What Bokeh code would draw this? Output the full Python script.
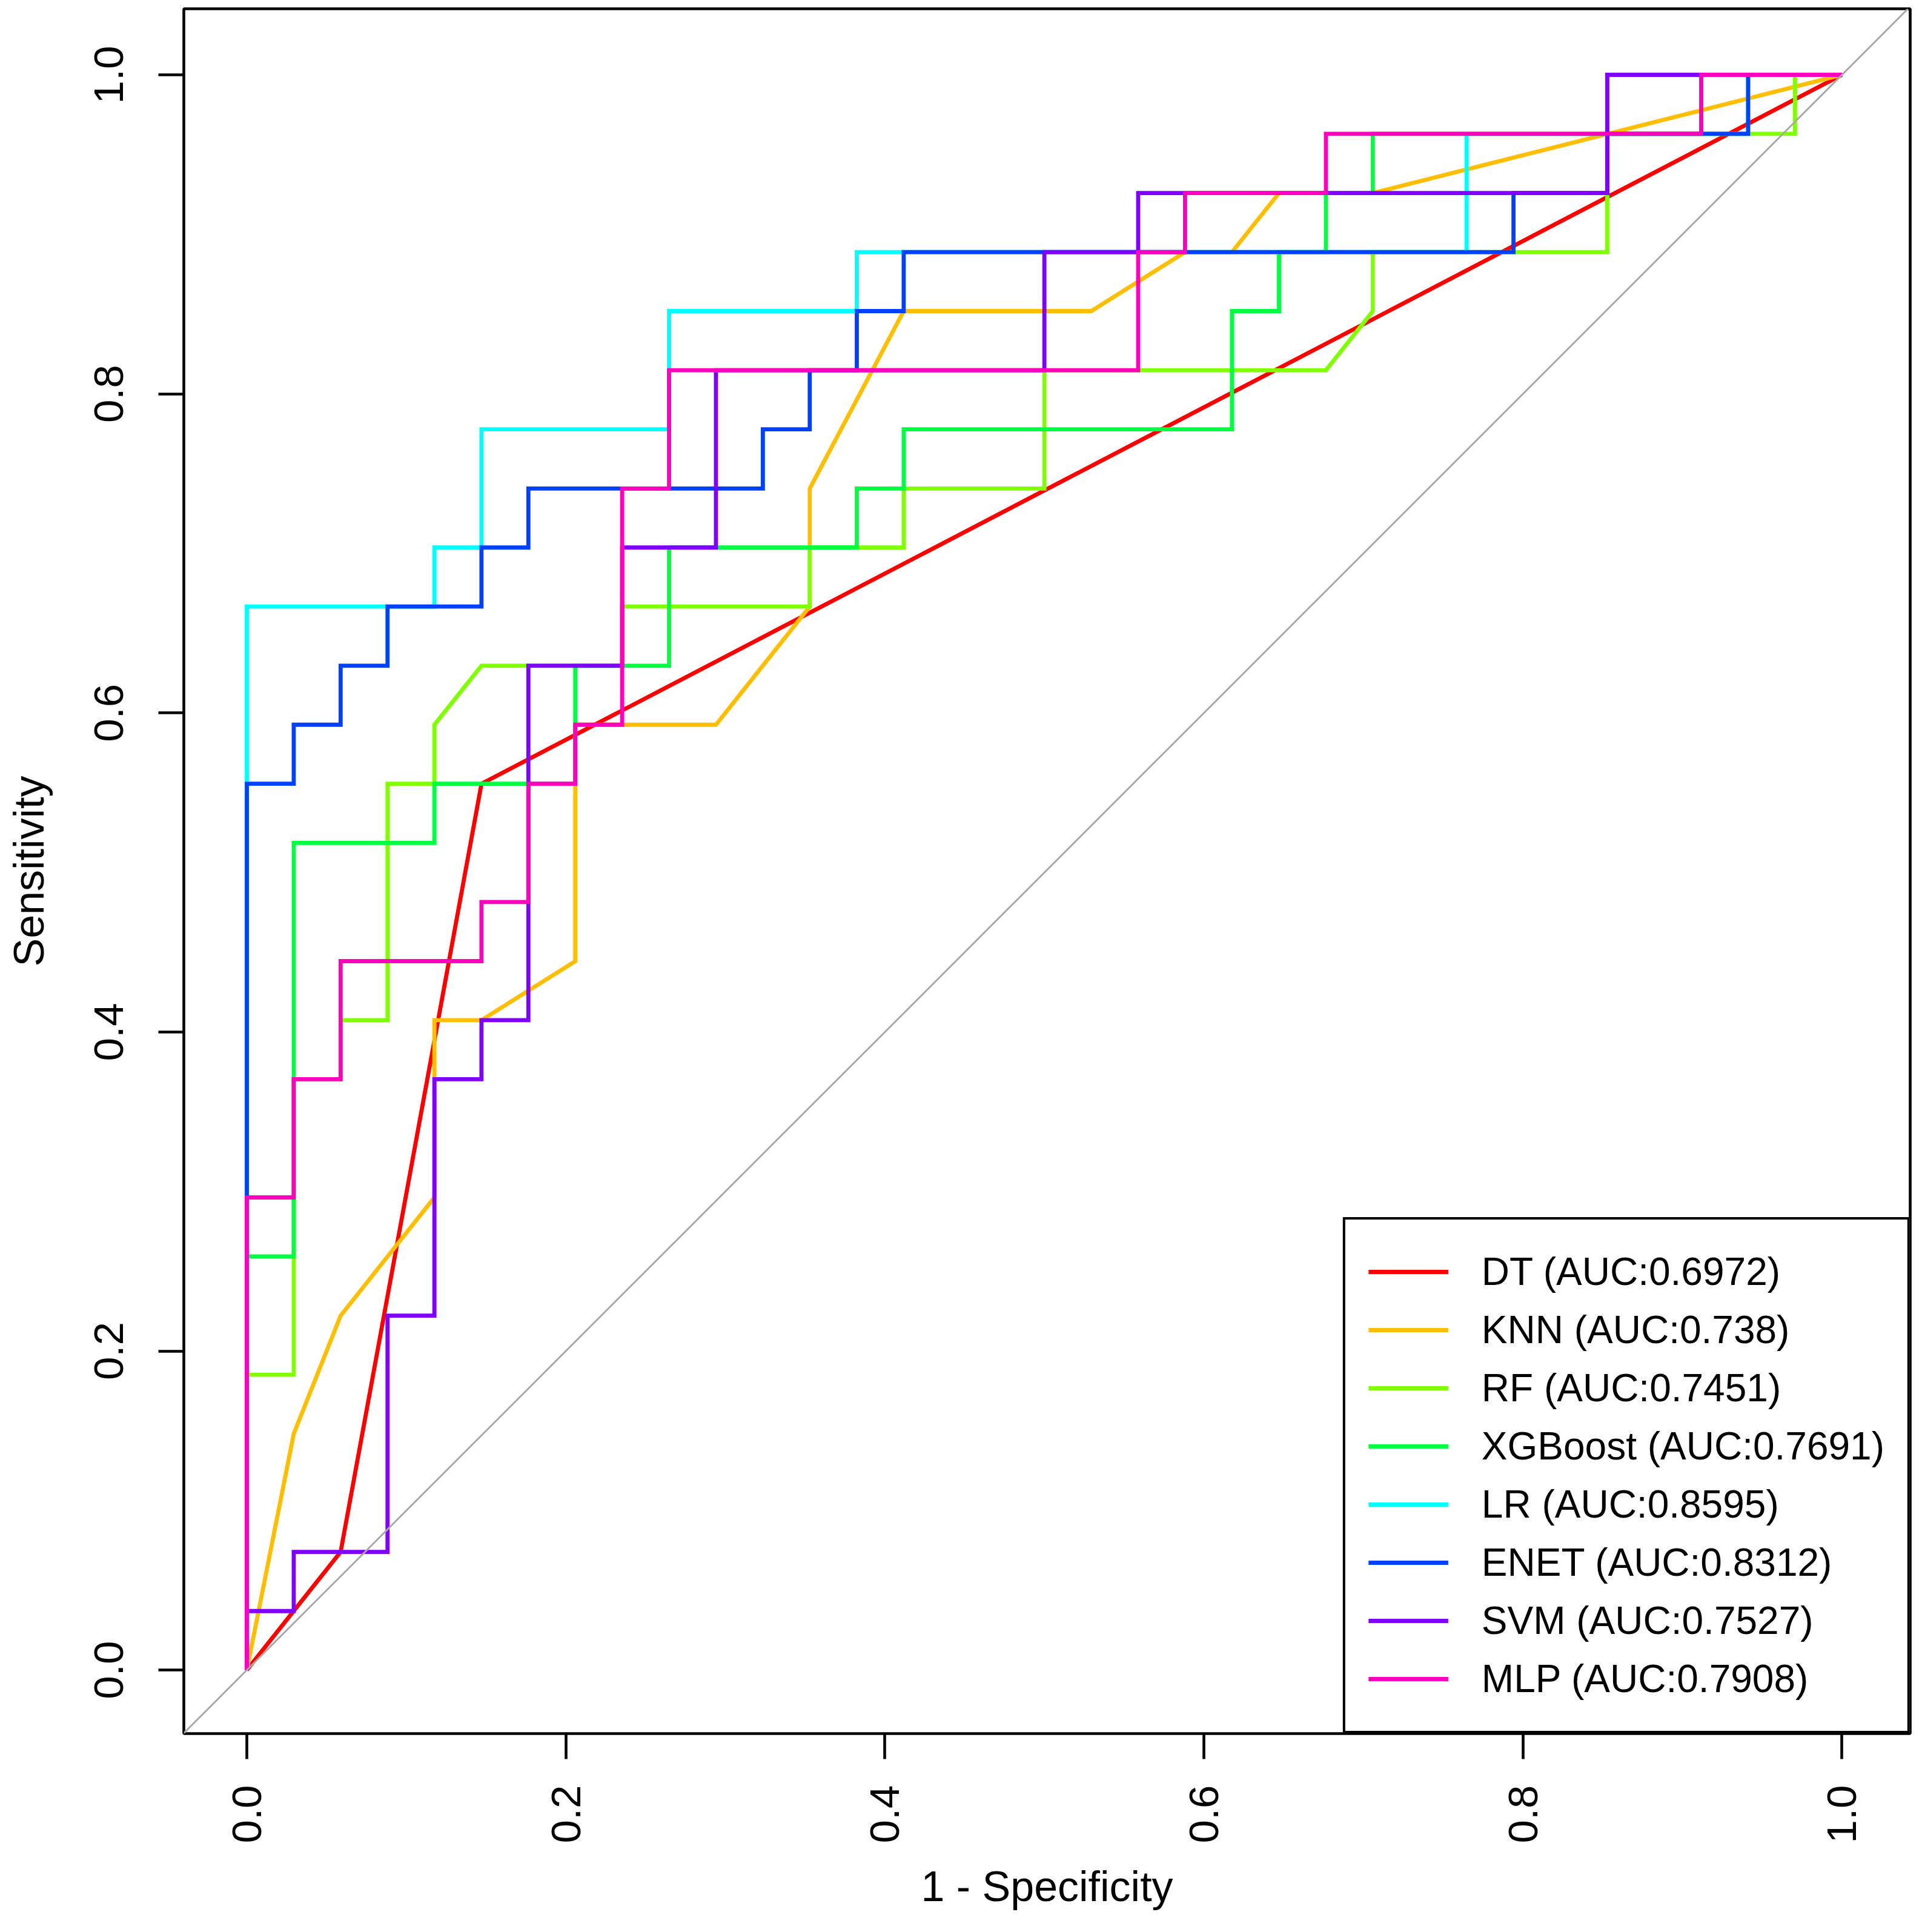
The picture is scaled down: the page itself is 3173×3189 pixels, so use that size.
import math
from bokeh.plotting import figure
from bokeh.models import Range1d, FixedTicker, PrintfTickFormatter, Legend, LegendItem, Slope
from bokeh.embed import file_html
from bokeh.resources import INLINE

# ---- data ----
models = ["DT", "KNN", "RF", "XGBoost", "LR", "ENET", "SVM", "MLP"]
auc_labels = ["0.6972", "0.738", "0.7451", "0.7691", "0.8595", "0.8312", "0.7527", "0.7908"]
colors = ["#FF0000", "#FFBF00", "#80FF00", "#00FF40", "#00FFFF", "#0040FF", "#8000FF", "#FF00BF"]

dt_fpr = [0, 0.0588, 0.1471, 1]
dt_tpr = [0, 0.0741, 0.5556, 1]

knn_fpr = [0, 0.0294, 0.0588, 0.1176, 0.1176, 0.1471, 0.2059, 0.2059, 0.2941, 0.3529, 0.3529,
           0.4118, 0.5294, 0.5882, 0.6176, 0.6471, 0.7059, 1]
knn_tpr = [0, 0.1481, 0.2222, 0.2963, 0.4074, 0.4074, 0.4444, 0.5926, 0.5926, 0.6667, 0.7407,
           0.8519, 0.8519, 0.8889, 0.8889, 0.9259, 0.9259, 1]

rf_fpr = [0, 0, 0.0294, 0.0294, 0.0588, 0.0588, 0.0882, 0.0882, 0.1176, 0.1176, 0.1471, 0.2353,
          0.2353, 0.3529, 0.3529, 0.4118, 0.4118, 0.5, 0.5, 0.6765, 0.7059, 0.7059, 0.8529, 0.8529,
          0.9706, 0.9706, 1]
rf_tpr = [0, 0.1852, 0.1852, 0.3704, 0.3704, 0.4074, 0.4074, 0.5556, 0.5556, 0.5926, 0.6296, 0.6296,
          0.6667, 0.6667, 0.7037, 0.7037, 0.7407, 0.7407, 0.8148, 0.8148, 0.8519, 0.8889, 0.8889, 0.9630,
          0.9630, 1, 1]

xgb_fpr = [0, 0, 0.0294, 0.0294, 0.1176, 0.1176, 0.2059, 0.2059, 0.2647, 0.2647, 0.3824, 0.3824,
           0.4118, 0.4118, 0.6176, 0.6176, 0.6471, 0.6471, 0.6765, 0.6765, 0.7059, 0.7059, 0.9118,
           0.9118, 1]
xgb_tpr = [0, 0.2593, 0.2593, 0.5185, 0.5185, 0.5556, 0.5556, 0.6296, 0.6296, 0.7037, 0.7037, 0.7407,
           0.7407, 0.7778, 0.7778, 0.8519, 0.8519, 0.8889, 0.8889, 0.9259, 0.9259, 0.9630, 0.9630, 1, 1]

lr_fpr = [0, 0, 0.1176, 0.1176, 0.1471, 0.1471, 0.2647, 0.2647, 0.3824, 0.3824, 0.7647, 0.7647,
          0.9412, 0.9412, 1]
lr_tpr = [0, 0.6667, 0.6667, 0.7037, 0.7037, 0.7778, 0.7778, 0.8519, 0.8519, 0.8889, 0.8889, 0.9630,
          0.9630, 1, 1]

enet_fpr = [0, 0, 0.0294, 0.0294, 0.0588, 0.0588, 0.0882, 0.0882, 0.1471, 0.1471, 0.1765, 0.1765,
            0.3235, 0.3235, 0.3529, 0.3529, 0.3824, 0.3824, 0.4118, 0.4118, 0.7941, 0.7941, 0.8529,
            0.8529, 0.9412, 0.9412, 1]
enet_tpr = [0, 0.5556, 0.5556, 0.5926, 0.5926, 0.6296, 0.6296, 0.6667, 0.6667, 0.7037, 0.7037, 0.7407,
            0.7407, 0.7778, 0.7778, 0.8148, 0.8148, 0.8519, 0.8519, 0.8889, 0.8889, 0.9259, 0.9259,
            0.9630, 0.9630, 1, 1]

svm_fpr = [0, 0, 0.0294, 0.0294, 0.0882, 0.0882, 0.1176, 0.1176, 0.1471, 0.1471, 0.1765, 0.1765,
           0.2353, 0.2353, 0.2941, 0.2941, 0.5, 0.5, 0.5588, 0.5588, 0.8529, 0.8529, 1]
svm_tpr = [0, 0.0370, 0.0370, 0.0741, 0.0741, 0.2222, 0.2222, 0.3704, 0.3704, 0.4074, 0.4074, 0.6296,
           0.6296, 0.7037, 0.7037, 0.8148, 0.8148, 0.8889, 0.8889, 0.9259, 0.9259, 1, 1]

mlp_fpr = [0, 0, 0.0294, 0.0294, 0.0588, 0.0588, 0.1471, 0.1471, 0.1765, 0.1765, 0.2059, 0.2059,
           0.2353, 0.2353, 0.2647, 0.2647, 0.5588, 0.5588, 0.5882, 0.5882, 0.6765, 0.6765, 0.9118,
           0.9118, 1]
mlp_tpr = [0, 0.2963, 0.2963, 0.3704, 0.3704, 0.4444, 0.4444, 0.4815, 0.4815, 0.5556, 0.5556, 0.5926,
           0.5926, 0.7407, 0.7407, 0.8148, 0.8148, 0.8889, 0.8889, 0.9259, 0.9259, 0.9630, 0.9630, 1, 1]

x_ticks = [0.0, 0.2, 0.4, 0.6, 0.8, 1.0]
y_ticks = [0.0, 0.2, 0.4, 0.6, 0.8, 1.0]

curves = [(dt_fpr, dt_tpr), (knn_fpr, knn_tpr), (rf_fpr, rf_tpr), (xgb_fpr, xgb_tpr),
          (lr_fpr, lr_tpr), (enet_fpr, enet_tpr), (svm_fpr, svm_tpr), (mlp_fpr, mlp_tpr)]

FONT = "Liberation Sans"

p = figure(frame_width=2850, frame_height=2847,
           x_range=Range1d(-0.0395, 1.0428), y_range=Range1d(-0.0398, 1.0414),
           output_backend="svg", toolbar_location=None,
           min_border_left=303, min_border_right=4, min_border_top=14, min_border_bottom=312)
p.grid.visible = False
p.outline_line_color = "black"
p.outline_line_alpha = 1.0
p.outline_line_width = 4.6
p.background_fill_color = "white"
p.border_fill_color = "white"

# identity line
p.add_layout(Slope(gradient=1, y_intercept=0, line_color="#A9A9A9", line_width=3))

items = []
for name, auc, col, (fx, ty) in zip(models, auc_labels, colors, curves):
    r = p.line(fx, ty, line_color=col, line_width=6.8, line_join="miter")
    items.append(LegendItem(label=f"{name} (AUC:{auc})", renderers=[r]))

for ax, ticks in ((p.xaxis[0], x_ticks), (p.yaxis[0], y_ticks)):
    ax.ticker = FixedTicker(ticks=ticks)
    ax.formatter = PrintfTickFormatter(format="%.1f")
    ax.axis_line_color = None
    ax.major_tick_in = 0
    ax.major_tick_out = 42
    ax.major_tick_line_width = 4.6
    ax.major_tick_line_color = "black"
    ax.minor_tick_in = 0
    ax.minor_tick_out = 0
    ax.major_label_text_font = FONT
    ax.major_label_text_font_size = "69px"
    ax.major_label_text_color = "black"
    ax.axis_label_text_font = FONT
    ax.axis_label_text_font_size = "70px"
    ax.axis_label_text_font_style = "normal"
    ax.axis_label_text_color = "black"

p.xaxis.axis_label = "1 - Specificity"
p.yaxis.axis_label = "Sensitivity"
p.xaxis.major_label_orientation = math.pi / 2
p.yaxis.major_label_orientation = "parallel"
p.xaxis.major_label_standoff = 43
p.yaxis.major_label_standoff = 58
p.xaxis.axis_label_standoff = 30
p.yaxis.axis_label_standoff = 67

legend = Legend(items=items, location="bottom_right", margin=0, padding=38, spacing=0,
                label_height=96, glyph_height=96, glyph_width=132, label_standoff=55,
                label_width=640,
                label_text_font=FONT, label_text_font_size="64px", label_text_color="black",
                border_line_color="black", border_line_alpha=1.0, border_line_width=4.6,
                background_fill_color="white", background_fill_alpha=1.0)
p.add_layout(legend)

open("out.html", "w").write(file_html(p, INLINE))
